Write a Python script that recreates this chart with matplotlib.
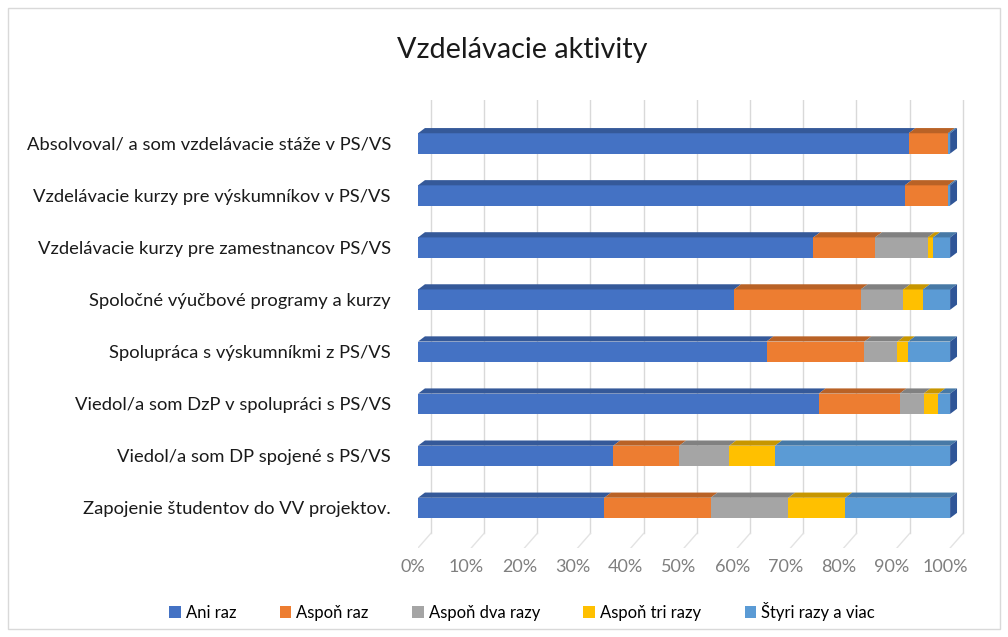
import matplotlib.pyplot as plt
import matplotlib.colors as mcolors
import matplotlib.transforms as mtransforms
from matplotlib.patches import Rectangle, Polygon
import numpy as np

categories = [
    "Absolvoval/ a som vzdelávacie stáže v PS/VS",
    "Vzdelávacie kurzy pre výskumníkov v PS/VS",
    "Vzdelávacie kurzy pre zamestnancov PS/VS",
    "Spoločné výučbové programy a kurzy",
    "Spolupráca s výskumníkmi z PS/VS",
    "Viedol/a som DzP v spolupráci s PS/VS",
    "Viedol/a som DP spojené s PS/VS",
    "Zapojenie študentov do VV projektov.",
]
series = ["Ani raz", "Aspoň raz", "Aspoň dva razy", "Aspoň tri razy", "Štyri razy a viac"]
ani_raz = [92.2, 91.5, 74.3, 59.4, 65.5, 75.3, 36.7, 35.0]
aspon_raz = [7.4, 8.1, 11.6, 23.8, 18.4, 15.2, 12.4, 20.0]
aspon_dva = [0.0, 0.0, 9.9, 8.0, 6.2, 4.5, 9.4, 14.6]
aspon_tri = [0.0, 0.0, 1.0, 3.7, 2.0, 2.8, 8.6, 10.7]
styri = [0.4, 0.4, 3.2, 5.1, 7.9, 2.2, 32.9, 19.7]
colors = ["#4472C4", "#ED7D31", "#A5A5A5", "#FFC000", "#5B9BD5"]
ticks = np.arange(0, 101, 10)

plt.rcParams['font.family'] = ['Lato', 'DejaVu Sans']

values = np.array([ani_raz, aspon_raz, aspon_dva, aspon_tri, styri])
values = values / values.sum(axis=0) * 100

fig = plt.figure(figsize=(10.08, 6.37), dpi=100)
fig.patches.append(Rectangle((0.008, 0.012), 0.984, 0.976, transform=fig.transFigure,
                             fill=False, edgecolor="#D9D9D9", linewidth=1))
ax = fig.add_axes([0.4147, 0.1397, 0.5437, 0.703])

n = len(categories)
y = np.arange(n)[::-1]
h = 0.39
dx, dy = 2.4, 0.28      # depth of back wall
bx, by = 1.3, 0.1       # depth of bars

# back wall gridlines with floor slant
for t in ticks:
    ax.plot([t + dx, t + dx], [-0.77 + dy, 7.83], color="#D9D9D9", lw=1, zorder=0)
    ax.plot([t, t + dx], [-0.77, -0.77 + dy], color="#E3E3E3", lw=1, zorder=0)

left = np.zeros(n)
for i, name in enumerate(series):
    ax.barh(y, values[i], left=left, height=h, color=colors[i], label=name, zorder=2)
    dark = np.array(mcolors.to_rgb(colors[i])) * 0.78
    for j in range(n):
        if values[i][j] <= 0:
            continue
        x0, x1 = left[j], left[j] + values[i][j]
        top = y[j] + h / 2
        ax.add_patch(Polygon([[x0, top], [x1, top], [x1 + bx, top + by], [x0 + bx, top + by]],
                             closed=True, facecolor=dark, edgecolor="none", zorder=2))
    left += values[i]

for j in range(n):
    top = y[j] + h / 2
    ax.add_patch(Polygon([[100, top], [100 + bx, top + by], [100 + bx, top + by - h], [100, top - h]],
                         closed=True, facecolor="#2F5597", edgecolor="none", zorder=2))

ax.set_xlim(0, 103)
ax.set_ylim(-0.77, 7.83)
ax.set_yticks(y)
ax.set_yticklabels(categories, fontsize=13.2, color="#1A1A1A")
ax.set_xticks(ticks)
ax.set_xticklabels([f"{t}%" for t in ticks], fontsize=13, color="#7F7F7F")
ax.tick_params(axis="both", length=0)
ax.tick_params(axis="x", pad=8)
ax.tick_params(axis="y", pad=19.5)
shift = mtransforms.ScaledTranslation(-5 / 100, 0, fig.dpi_scale_trans)
for lbl in ax.get_xticklabels():
    lbl.set_transform(lbl.get_transform() + shift)
for s in ax.spines.values():
    s.set_visible(False)

fig.text(0.518, 0.921, "Vzdelávacie aktivity", ha="center", va="center", fontsize=20.7, color="#1A1A1A")
fig.legend(loc="center", bbox_to_anchor=(0.518, 0.04), ncol=5, frameon=False, fontsize=12,
           handlelength=0.7, handleheight=0.7, handletextpad=0.3, columnspacing=2.6)

plt.savefig("out.png")
